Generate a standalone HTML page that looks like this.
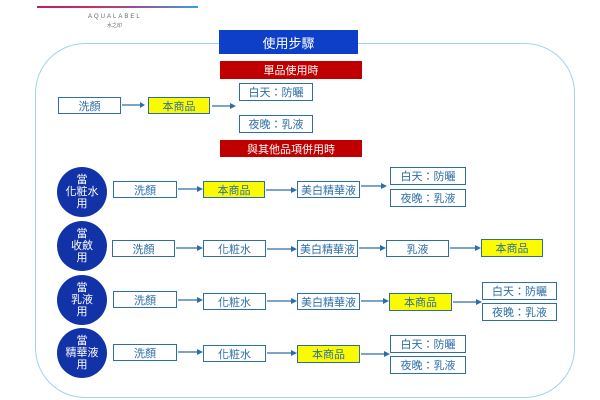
<!DOCTYPE html>
<html><head><meta charset="utf-8"><style>
body{margin:0;width:600px;height:400px;background:#fff;position:relative;overflow:hidden;font-family:"Liberation Sans","Noto Sans CJK TC",sans-serif}
.b{position:absolute;box-sizing:border-box;border:1.5px solid #2e6ea6;background:#fff;color:#2e6ea6;font-size:11px;display:flex;align-items:center;justify-content:center;height:17px}
.y{background:#fafa00;color:#2e6ea6}
.c{position:absolute;width:50px;height:50px;border-radius:50%;background:#1233a8;color:#fff;font-size:11px;line-height:12px;text-align:center;display:flex;align-items:center;justify-content:center}
.r{position:absolute;background:#c00000;color:#fff;font-size:11px;display:flex;align-items:center;justify-content:center}
</style></head><body>
<div style="position:absolute;left:37px;top:6px;width:161px;height:2px;background:linear-gradient(90deg,#b0207a,#d03050,#8a5aa0,#3aa0e0)"></div>
<div style="position:absolute;left:88px;top:14px;font-size:6px;letter-spacing:2px;color:#666">AQUALABEL</div>
<div style="position:absolute;left:107px;top:22px;font-size:5px;color:#666">水之印</div>
<div style="position:absolute;left:35px;top:43px;width:540px;height:355px;box-sizing:border-box;border:1.5px solid #9fd4ee;border-radius:50px"></div>
<div style="position:absolute;left:219px;top:30px;width:139px;height:24px;background:#0d3fc8;color:#fff;font-size:13px;display:flex;align-items:center;justify-content:center">使用步驟</div>
<div class="r" style="left:220px;top:61px;width:142px;height:18px">單品使用時</div>
<div class="r" style="left:220px;top:140px;width:142px;height:17px">與其他品項併用時</div>
<div class="b" style="left:58px;top:97px;width:63px">洗顏</div>
<div class="b y" style="left:148px;top:97px;width:62px">本商品</div>
<div class="b" style="left:239px;top:83px;width:74px;height:18px">白天：防曬</div>
<div class="b" style="left:239px;top:115px;width:74px;height:18px">夜晚：乳液</div>
<div class="c" style="left:57px;top:167px">當<br>化粧水<br>用</div>
<div class="c" style="left:57px;top:221px">當<br>收斂<br>用</div>
<div class="c" style="left:57px;top:275px">當<br>乳液<br>用</div>
<div class="c" style="left:57px;top:328px">當<br>精華液<br>用</div>
<div class="b" style="left:113px;top:181px;width:64px">洗顏</div>
<div class="b y" style="left:203px;top:181px;width:62px">本商品</div>
<div class="b" style="left:297px;top:181px;width:63px">美白精華液</div>
<div class="b" style="left:390px;top:167px;width:76px;height:18px">白天：防曬</div>
<div class="b" style="left:390px;top:189px;width:76px;height:18px">夜晚：乳液</div>
<div class="b" style="left:112px;top:240px;width:63px">洗顏</div>
<div class="b" style="left:203px;top:240px;width:63px">化粧水</div>
<div class="b" style="left:297px;top:240px;width:61px">美白精華液</div>
<div class="b" style="left:386px;top:240px;width:63px">乳液</div>
<div class="b y" style="left:481px;top:239px;width:62px;height:18px">本商品</div>
<div class="b" style="left:113px;top:291px;width:64px">洗顏</div>
<div class="b" style="left:203px;top:293px;width:63px">化粧水</div>
<div class="b" style="left:297px;top:293px;width:63px">美白精華液</div>
<div class="b y" style="left:389px;top:293px;width:63px;height:18px">本商品</div>
<div class="b" style="left:482px;top:282px;width:75px;height:18px">白天：防曬</div>
<div class="b" style="left:482px;top:303px;width:75px;height:18px">夜晚：乳液</div>
<div class="b" style="left:113px;top:344px;width:64px">洗顏</div>
<div class="b" style="left:203px;top:345px;width:63px">化粧水</div>
<div class="b y" style="left:297px;top:345px;width:63px;height:18px">本商品</div>
<div class="b" style="left:390px;top:335px;width:76px;height:18px">白天：防曬</div>
<div class="b" style="left:390px;top:356px;width:76px;height:18px">夜晚：乳液</div>
<svg width="600" height="400" style="position:absolute;left:0;top:0" fill="#2e6ea6" stroke="#2e6ea6" stroke-width="1.2">
<g>
<line x1="122" y1="105" x2="140" y2="105"/><polygon points="140,102 145,105 140,108" stroke="none"/>
<line x1="212" y1="106" x2="230" y2="106"/><polygon points="230,103 236,106 230,109" stroke="none"/>
<line x1="178" y1="189" x2="197" y2="189"/><polygon points="197,186 203,189 197,192" stroke="none"/>
<line x1="266" y1="190" x2="291" y2="190"/><polygon points="291,187 297,190 291,193" stroke="none"/>
<line x1="361" y1="186" x2="381" y2="186"/><polygon points="381,183 387,186 381,189" stroke="none"/>
<line x1="176" y1="248" x2="197" y2="248"/><polygon points="197,245 203,248 197,251" stroke="none"/>
<line x1="267" y1="249" x2="291" y2="249"/><polygon points="291,246 297,249 291,252" stroke="none"/>
<line x1="359" y1="248" x2="380" y2="248"/><polygon points="380,245 386,248 380,251" stroke="none"/>
<line x1="450" y1="248" x2="475" y2="248"/><polygon points="475,245 481,248 475,251" stroke="none"/>
<line x1="178" y1="300" x2="197" y2="300"/><polygon points="197,297 203,300 197,303" stroke="none"/>
<line x1="267" y1="301" x2="291" y2="301"/><polygon points="291,298 297,301 291,304" stroke="none"/>
<line x1="361" y1="301" x2="383" y2="301"/><polygon points="383,298 389,301 383,304" stroke="none"/>
<line x1="453" y1="302" x2="476" y2="302"/><polygon points="476,299 482,302 476,305" stroke="none"/>
<line x1="178" y1="352" x2="197" y2="352"/><polygon points="197,349 203,352 197,355" stroke="none"/>
<line x1="267" y1="353" x2="291" y2="353"/><polygon points="291,350 297,353 291,356" stroke="none"/>
<line x1="361" y1="354" x2="384" y2="354"/><polygon points="384,351 390,354 384,357" stroke="none"/>
</g></svg>
</body></html>
